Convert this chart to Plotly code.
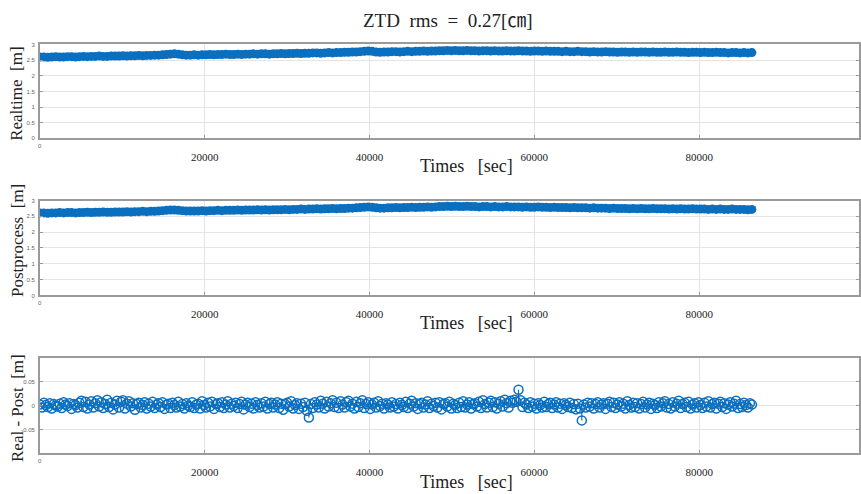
import plotly.graph_objects as go

# ---------------- data ----------------
sample_step = 480  # seconds between samples (top panels)
n_samples = 181
times = [i * sample_step for i in range(n_samples)]

diff_step = 240  # seconds between samples (difference panel)
n_diff = 361
diff_times = [i * diff_step for i in range(n_diff)]

realtime = [
    2.60, 2.60, 2.59, 2.60, 2.61, 2.60, 2.60, 2.61, 2.61, 2.60,
    2.61, 2.62, 2.61, 2.62, 2.62, 2.63, 2.62, 2.62, 2.63, 2.63,
    2.63, 2.64, 2.63, 2.64, 2.64, 2.65, 2.64, 2.65, 2.65, 2.66,
    2.66, 2.67, 2.68, 2.69, 2.70, 2.69, 2.67, 2.66, 2.66, 2.67,
    2.66, 2.67, 2.67, 2.68, 2.67, 2.68, 2.68, 2.69, 2.68, 2.68,
    2.69, 2.68, 2.69, 2.69, 2.70, 2.69, 2.70, 2.70, 2.69, 2.70,
    2.70, 2.71, 2.70, 2.71, 2.71, 2.72, 2.71, 2.72, 2.72, 2.73,
    2.73, 2.72, 2.73, 2.74, 2.73, 2.74, 2.74, 2.75, 2.75, 2.76,
    2.76, 2.77, 2.78, 2.79, 2.78, 2.76, 2.75, 2.76, 2.76, 2.77,
    2.77, 2.76, 2.77, 2.78, 2.77, 2.78, 2.78, 2.79, 2.78, 2.79,
    2.79, 2.80, 2.80, 2.81, 2.80, 2.81, 2.80, 2.80, 2.81, 2.80,
    2.80, 2.79, 2.80, 2.80, 2.79, 2.80, 2.79, 2.79, 2.80, 2.79,
    2.79, 2.80, 2.79, 2.79, 2.78, 2.79, 2.79, 2.78, 2.79, 2.78,
    2.78, 2.78, 2.77, 2.78, 2.77, 2.77, 2.78, 2.77, 2.77, 2.76,
    2.77, 2.76, 2.76, 2.77, 2.76, 2.76, 2.75, 2.76, 2.76, 2.75,
    2.76, 2.75, 2.76, 2.76, 2.75, 2.76, 2.75, 2.75, 2.76, 2.75,
    2.75, 2.76, 2.75, 2.75, 2.74, 2.75, 2.75, 2.74, 2.75, 2.74,
    2.74, 2.75, 2.74, 2.74, 2.73, 2.74, 2.74, 2.73, 2.74, 2.73, 2.74,
]

postprocess = [
    2.61, 2.61, 2.60, 2.61, 2.61, 2.62, 2.61, 2.62, 2.62, 2.61,
    2.62, 2.62, 2.63, 2.62, 2.63, 2.63, 2.64, 2.63, 2.63, 2.64,
    2.64, 2.64, 2.65, 2.64, 2.65, 2.65, 2.66, 2.65, 2.66, 2.66,
    2.67, 2.68, 2.69, 2.70, 2.70, 2.69, 2.68, 2.67, 2.67, 2.67,
    2.67, 2.68, 2.67, 2.68, 2.68, 2.69, 2.68, 2.69, 2.69, 2.69,
    2.70, 2.69, 2.70, 2.70, 2.70, 2.71, 2.70, 2.71, 2.70, 2.71,
    2.71, 2.71, 2.72, 2.71, 2.72, 2.72, 2.73, 2.72, 2.73, 2.73,
    2.74, 2.73, 2.74, 2.74, 2.75, 2.74, 2.75, 2.75, 2.76, 2.76,
    2.77, 2.78, 2.79, 2.80, 2.79, 2.77, 2.76, 2.76, 2.77, 2.77,
    2.78, 2.77, 2.78, 2.78, 2.79, 2.78, 2.79, 2.79, 2.80, 2.79,
    2.80, 2.81, 2.81, 2.82, 2.81, 2.82, 2.81, 2.81, 2.82, 2.81,
    2.81, 2.80, 2.81, 2.81, 2.80, 2.81, 2.80, 2.80, 2.81, 2.80,
    2.80, 2.80, 2.79, 2.80, 2.79, 2.79, 2.80, 2.79, 2.79, 2.78,
    2.79, 2.78, 2.78, 2.78, 2.77, 2.78, 2.77, 2.77, 2.77, 2.76,
    2.77, 2.76, 2.76, 2.76, 2.75, 2.76, 2.75, 2.75, 2.75, 2.74,
    2.75, 2.74, 2.75, 2.74, 2.74, 2.75, 2.74, 2.74, 2.74, 2.73,
    2.74, 2.73, 2.74, 2.73, 2.73, 2.74, 2.73, 2.73, 2.73, 2.72,
    2.73, 2.72, 2.73, 2.72, 2.72, 2.73, 2.72, 2.72, 2.72, 2.71, 2.72,
]

real_minus_post = [
    0.002, -0.004, 0.006, 0.001, -0.003, 0.005, -0.006, 0.003, 0.000, -0.002, 0.004, -0.005, 0.007, 0.002, -0.001, 0.005, -0.007, 0.003, 0.001, -0.004,
    0.006, 0.010, -0.003, 0.008, -0.006, 0.002, 0.009, -0.004, 0.005, 0.011, -0.002, 0.007, -0.005, 0.003, 0.012, -0.003, 0.006, -0.008, 0.002, 0.010,
    -0.004, 0.008, 0.011, -0.006, 0.004, 0.009, -0.002, 0.005, -0.009, 0.003, 0.006, -0.004, 0.001, 0.007, -0.006, 0.004, -0.002, 0.008, -0.005, 0.002,
    0.005, -0.003, 0.007, -0.007, 0.002, 0.004, -0.005, 0.006, 0.001, -0.004, 0.008, -0.002, 0.003, -0.006, 0.005, 0.000, -0.003, 0.007, -0.005, 0.002,
    0.004, -0.006, 0.009, 0.001, -0.004, 0.006, -0.002, 0.008, -0.007, 0.003, 0.005, -0.003, 0.007, -0.005, 0.002, 0.009, -0.004, 0.004, -0.001, 0.006,
    -0.005, 0.003, 0.008, -0.008, 0.002, 0.006, -0.003, 0.004, -0.006, 0.007, 0.001, -0.004, 0.005, -0.002, 0.008, -0.006, 0.003, 0.006, -0.004, 0.002,
    0.007, -0.005, 0.004, -0.009, 0.003, 0.006, -0.002, 0.009, -0.006, 0.001, 0.005, -0.007, 0.004, -0.003, 0.006, -0.011, -0.025, 0.003, -0.005, 0.007,
    0.002, -0.004, 0.010, 0.004, -0.006, 0.008, -0.002, 0.005, 0.011, -0.003, 0.006, -0.005, 0.009, 0.002, -0.004, 0.007, 0.010, -0.002, 0.004, -0.006,
    0.008, -0.003, 0.005, 0.011, -0.005, 0.003, 0.007, -0.007, 0.002, 0.006, -0.004, 0.009, -0.001, 0.004, -0.006, 0.005, 0.002, -0.004, 0.007, -0.002,
    0.003, -0.006, 0.006, 0.001, -0.003, 0.008, -0.005, 0.004, 0.010, -0.002, 0.005, -0.007, 0.003, 0.006, -0.004, 0.002, 0.009, -0.005, 0.004, -0.001,
    0.006, -0.004, 0.007, -0.008, 0.003, 0.005, -0.002, 0.008, -0.006, 0.004, 0.001, -0.005, 0.006, -0.003, 0.009, -0.004, 0.002, 0.007, -0.006, 0.003,
    0.005, -0.002, 0.008, -0.005, 0.011, 0.003, -0.004, 0.006, 0.010, -0.003, 0.007, -0.006, 0.004, 0.009, -0.002, 0.012, 0.005, -0.004, 0.010, 0.006,
    0.012, 0.008, 0.033, 0.011, -0.003, 0.006, 0.002, -0.005, 0.007, -0.002, 0.004, -0.006, 0.005, 0.001, -0.004, 0.008, -0.003, 0.003, 0.006, -0.005,
    0.002, 0.007, -0.004, 0.004, -0.007, 0.005, 0.001, -0.003, 0.006, -0.005, 0.003, -0.008, 0.004, -0.006, -0.031, 0.002, -0.004, 0.006, -0.002, 0.005,
    -0.006, 0.003, 0.007, -0.004, 0.002, 0.005, -0.007, 0.004, 0.008, -0.003, 0.006, -0.005, 0.002, 0.007, -0.002, 0.004, -0.006, 0.009, 0.001, -0.004,
    0.006, -0.003, 0.005, -0.006, 0.003, 0.008, -0.004, 0.002, 0.006, -0.007, 0.004, 0.001, -0.005, 0.007, -0.002, 0.005, 0.009, -0.004, 0.003, -0.006,
    0.007, -0.002, 0.004, 0.010, -0.005, 0.003, 0.006, -0.003, 0.008, -0.006, 0.002, 0.005, -0.004, 0.007, 0.001, -0.005, 0.006, -0.002, 0.009, -0.004,
    0.003, 0.006, -0.006, 0.004, 0.008, -0.003, 0.005, -0.007, 0.002, 0.007, -0.002, 0.004, 0.010, -0.005, 0.003, -0.003, 0.006, 0.001, -0.004, 0.005,
    0.002,
]

x_tick_vals = [20000, 40000, 60000, 80000]
x_tick_text = ["20000", "40000", "60000", "80000"]
y_tick_vals_top = [0, 0.5, 1, 1.5, 2, 2.5, 3]
y_tick_text_top = ["0", "0.5", "1", "1.5", "2", "2.5", "3"]
y_tick_vals_diff = [-0.05, 0, 0.05]
y_tick_text_diff = ["-0.05", "0", "0.05"]

# ---------------- figure ----------------
W, H = 861, 494
BLUE = "#0B6FBF"
SERIF = "Liberation Serif, Times New Roman, serif"
GRID = "#e4e4e4"
BORDER = "#9a9a9a"

def ydom(top_px, bot_px):
    return [1 - bot_px / H, 1 - top_px / H]

panels = [
    dict(top=42, bot=137, title="Realtime\u00a0\u00a0[m]", tcy=92, xlab_y=165),
    dict(top=200, bot=296, title="Postprocess\u00a0\u00a0[m]", tcy=240, xlab_y=324),
    dict(top=359, bot=456, title="Real\u00a0-\u00a0Post\u00a0\u00a0[m]", tcy=410, xlab_y=485),
]

fig = go.Figure()

fig.add_trace(go.Scatter(
    x=times, y=realtime, mode="lines+markers", xaxis="x", yaxis="y",
    line=dict(color=BLUE, width=3),
    marker=dict(color=BLUE, size=9, symbol="circle"), showlegend=False))

fig.add_trace(go.Scatter(
    x=times, y=postprocess, mode="lines+markers", xaxis="x2", yaxis="y2",
    line=dict(color=BLUE, width=3),
    marker=dict(color=BLUE, size=9, symbol="circle"), showlegend=False))

# stem lines for the difference panel
stem_x, stem_y = [], []
for t, v in zip(diff_times, real_minus_post):
    stem_x += [t, t, None]
    stem_y += [0, v, None]
fig.add_trace(go.Scatter(
    x=stem_x, y=stem_y, mode="lines", xaxis="x3", yaxis="y3",
    line=dict(color=BLUE, width=1.2), showlegend=False, hoverinfo="skip"))
fig.add_trace(go.Scatter(
    x=diff_times, y=real_minus_post, mode="markers", xaxis="x3", yaxis="y3",
    marker=dict(color=BLUE, size=9, symbol="circle-open", line=dict(width=1.5)),
    showlegend=False))

x_range = [0, 99400]
axis_common_x = dict(
    range=x_range, domain=[40 / W, 1.0], tickvals=x_tick_vals, ticktext=x_tick_text,
    showgrid=True, gridcolor=GRID, gridwidth=1, zeroline=False,
    showline=True, linecolor=BORDER, linewidth=1.5, mirror=True,
    ticks="inside", ticklen=4, tickcolor=BORDER,
    tickfont=dict(family=SERIF, size=11, color="#222"),
    ticklabelstandoff=8,
)
axis_common_y = dict(
    showgrid=True, gridcolor=GRID, gridwidth=1, zeroline=False,
    showline=True, linecolor=BORDER, linewidth=1.5, mirror="ticks",
    ticks="inside", ticklen=3, tickcolor=BORDER,
    tickfont=dict(family="Liberation Sans, Arial", size=6, color="#666"),
    ticklabelstandoff=2,
)

layout = dict(
    width=W, height=H, paper_bgcolor="white", plot_bgcolor="white",
    margin=dict(l=0, r=0, t=0, b=0),
    showlegend=False,
)
for i, p in enumerate(panels):
    sfx = "" if i == 0 else str(i + 1)
    xa = dict(axis_common_x)
    xa["anchor"] = "y" + sfx
    ya = dict(axis_common_y)
    ya["anchor"] = "x" + sfx
    ya["domain"] = ydom(p["top"], p["bot"])
    if i < 2:
        ya.update(range=[0, 3], tickvals=y_tick_vals_top, ticktext=y_tick_text_top)
    else:
        ya.update(range=[-0.1, 0.1], tickvals=y_tick_vals_diff, ticktext=y_tick_text_diff)
    layout["xaxis" + sfx] = xa
    layout["yaxis" + sfx] = ya

annotations = []
annotations.append(dict(
    text="ZTD\u00a0\u00a0rms\u00a0\u00a0=\u00a0\u00a00.27[\u339d]",
    x=449 / W, y=1 - 18 / H, xref="paper", yref="paper", showarrow=False,
    xanchor="center", yanchor="middle",
    font=dict(family=SERIF + ", Noto Sans CJK KR", size=19, color="#222")))
for p in panels:
    annotations.append(dict(
        text=p["title"], x=17 / W, y=1 - p["tcy"] / H, xref="paper", yref="paper",
        showarrow=False, textangle=-90, xanchor="center", yanchor="middle",
        font=dict(family=SERIF, size=17, color="#222")))
    annotations.append(dict(
        text="Times\u00a0\u00a0\u00a0[sec]", x=468 / W, y=1 - p["xlab_y"] / H,
        xref="paper", yref="paper", showarrow=False, xanchor="center", yanchor="middle",
        font=dict(family=SERIF, size=18, color="#222")))
    annotations.append(dict(
        text="0", x=40 / W, y=1 - (p["bot"] + 8) / H, xref="paper", yref="paper",
        showarrow=False, xanchor="center", yanchor="middle",
        font=dict(family="Liberation Sans, Arial", size=6, color="#666")))
layout["annotations"] = annotations

fig.update_layout(**layout)
fig.write_html("out.html")
